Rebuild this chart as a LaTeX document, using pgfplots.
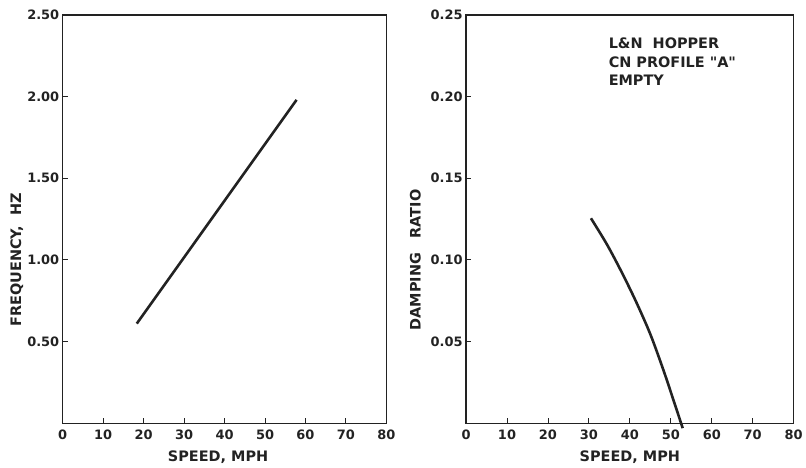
\documentclass[border=0pt]{standalone}
\usepackage{pgfplots}
\pgfplotsset{compat=1.18}
\usepackage{fontspec}
\setmainfont{DejaVu Sans}
\definecolor{ink}{HTML}{222222}
\pgfplotsset{
  panel/.style={
    scale only axis, height=410pt,
    xmin=0, xmax=80, xtick={0,10,...,80},
    axis line style={line width=1.3pt, ink},
    tick style={line width=0.9pt, ink},
    tick align=inside, major tick length=5pt,
    xtick pos=bottom, ytick pos=left,
    tick label style={font=\fontsize{13}{13}\selectfont\bfseries, text=ink},
    /pgf/number format/assume math mode=true,
    xticklabel style={yshift=-3pt},
    yticklabel style={xshift=0pt},
    label style={font=\fontsize{14.5}{14.5}\selectfont\bfseries, text=ink},
  }
}
\begin{document}
\begin{tikzpicture}
\begin{axis}[panel, width=325pt, at={(0pt,0pt)}, anchor=south west,
  ymin=0, ymax=2.5, ytick={0.5,1,1.5,2,2.5},
  xticklabels={0,10,20,30,40,50,60,70,80},
  yticklabels={0.50,1.00,1.50,2.00,2.50},
  xlabel={SPEED, MPH}, ylabel={FREQUENCY,\ \ HZ},
  xlabel style={at={(axis description cs:0.48,0)}, anchor=center, yshift=-34pt},
  ylabel style={at={(axis description cs:-0.142,0.4)}, anchor=center}]
\addplot[ink, line width=2.6pt] coordinates {(18.3,0.61) (57.8,1.98)};
\end{axis}
\begin{axis}[panel, width=329pt, at={(405pt,0pt)}, anchor=south west,
  ymin=0, ymax=0.25, ytick={0.05,0.10,0.15,0.20,0.25}, clip=false,
  xticklabels={0,10,20,30,40,50,60,70,80},
  yticklabels={0.05,0.10,0.15,0.20,0.25},
  xlabel={SPEED, MPH}, ylabel={DAMPING\quad RATIO},
  xlabel style={at={(axis description cs:0.5,0)}, anchor=center, yshift=-34pt},
  ylabel style={at={(axis description cs:-0.155,0.4)}, anchor=center}]
\addplot[ink, line width=2.6pt, smooth] coordinates {
  (30.5,0.1255) (34.4,0.1095) (38.0,0.0925) (41.5,0.0745)
  (45.0,0.0545) (48.2,0.0325) (50.8,0.0130) (52.9,-0.003)};
\node[anchor=north west, inner sep=0pt, align=left, text=ink,
  font=\fontsize{14.5}{18.5}\selectfont\bfseries] at (axis cs:34.8,0.236)
  {L\&N\ \ HOPPER\\CN PROFILE \textquotedbl A\textquotedbl\\EMPTY};
\end{axis}
\path[use as bounding box] (-63pt,-44pt) rectangle (743pt,425pt);
\end{tikzpicture}
\end{document}
